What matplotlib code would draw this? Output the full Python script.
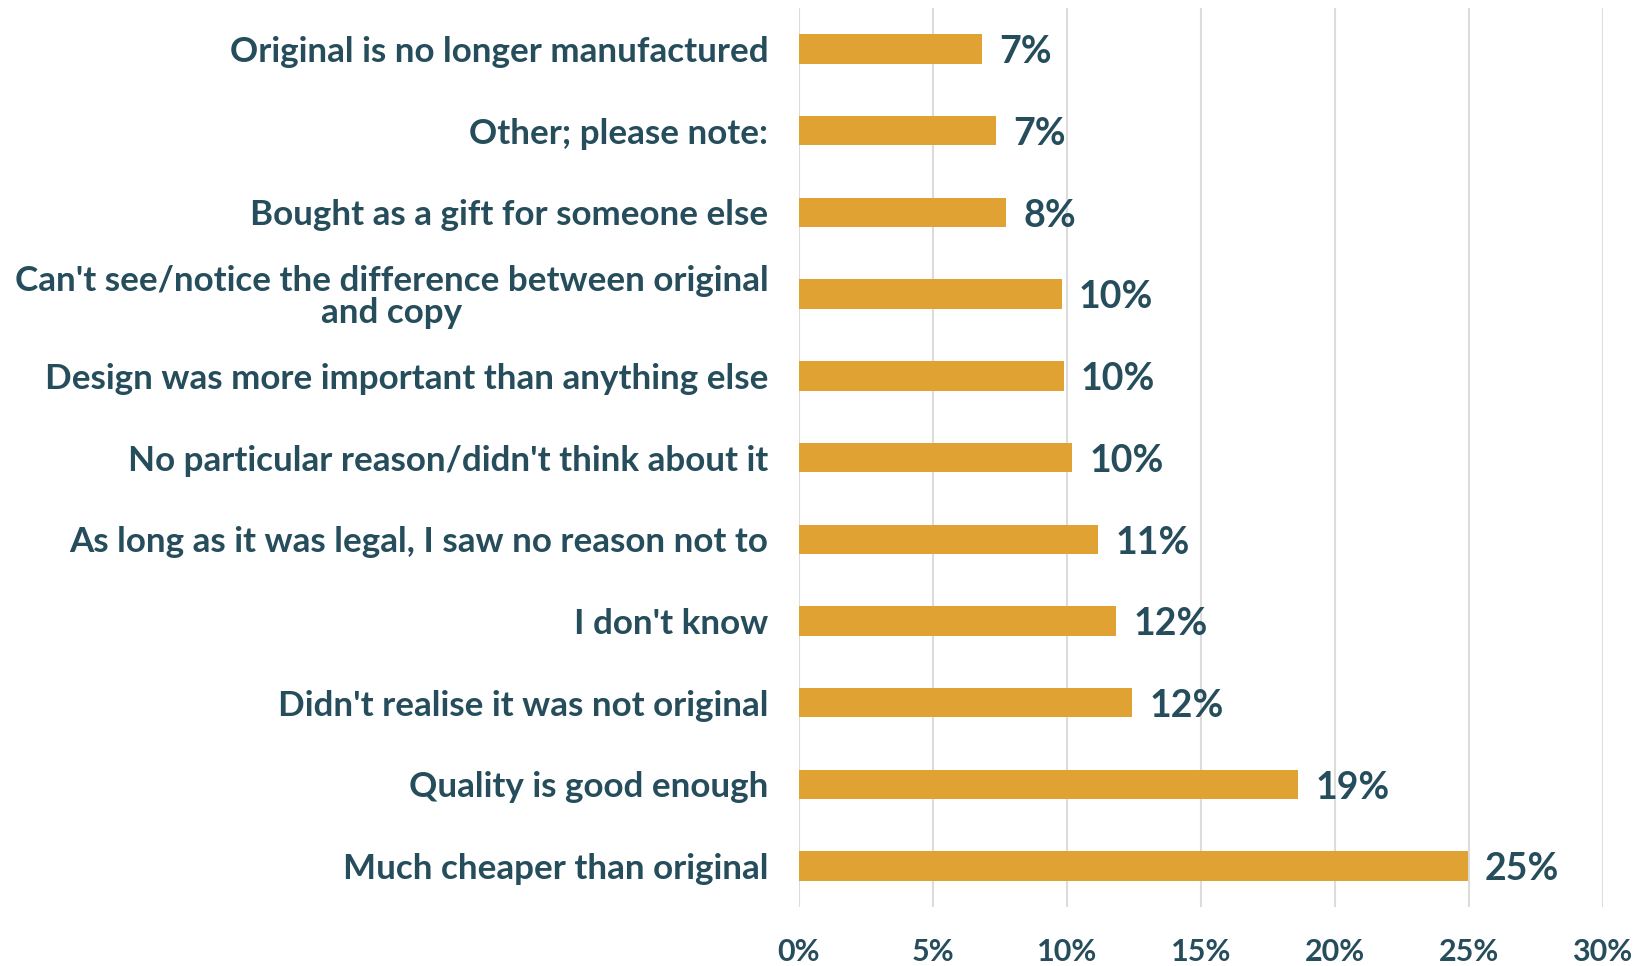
import matplotlib
matplotlib.use("Agg")
import matplotlib.pyplot as plt
from matplotlib.ticker import FuncFormatter

categories = [
    "Much cheaper than original",
    "Quality is good enough",
    "Didn't realise it was not original",
    "I don't know",
    "As long as it was legal, I saw no reason not to",
    "No particular reason/didn't think about it",
    "Design was more important than anything else",
    "Can't see/notice the difference between original\nand copy",
    "Bought as a gift for someone else",
    "Other; please note:",
    "Original is no longer manufactured",
]
values = [24.96, 18.63, 12.42, 11.84, 11.17, 10.2, 9.88, 9.80, 7.73, 7.34, 6.84]
x_ticks = [0, 5, 10, 15, 20, 25, 30]

TEXT = "#264D5C"
BAR = "#E0A232"
GRID = "#DCDCDC"
FONT = ["Lato", "DejaVu Sans"]

fig = plt.figure(figsize=(16.42, 9.66), dpi=100)
ax = fig.add_axes([0.4866, 0.061, 0.4894, 0.9307])

ypos = list(range(len(categories)))
ax.barh(ypos, values, height=0.36, color=BAR, zorder=3)

for y, v in zip(ypos, values):
    ax.text(v + 0.65, y - 0.04, f"{v:.0f}%", va="center", ha="left",
            fontsize=27, fontweight="bold", color=TEXT, family=FONT)

ax.set_xlim(0, 30)
ax.set_ylim(-0.5, len(categories) - 0.5)
ax.set_xticks(x_ticks)
ax.xaxis.set_major_formatter(FuncFormatter(lambda v, p: f"{v:.0f}%"))
ax.set_yticks(ypos)
ax.set_yticklabels(categories, multialignment="center", linespacing=1.0)

for lab in ax.get_xticklabels():
    lab.set_fontsize(22)
    lab.set_fontweight("bold")
    lab.set_color(TEXT)
    lab.set_family(FONT)
for lab in ax.get_yticklabels():
    lab.set_fontsize(25.2)
    lab.set_fontweight("bold")
    lab.set_color(TEXT)
    lab.set_family(FONT)

ax.tick_params(axis="x", length=0, pad=22)
ax.tick_params(axis="y", length=0, pad=22)
ax.grid(axis="x", color=GRID, linewidth=1.5, zorder=0)
for s in ax.spines.values():
    s.set_visible(False)

fig.savefig("out.png", dpi=100, facecolor="white")
